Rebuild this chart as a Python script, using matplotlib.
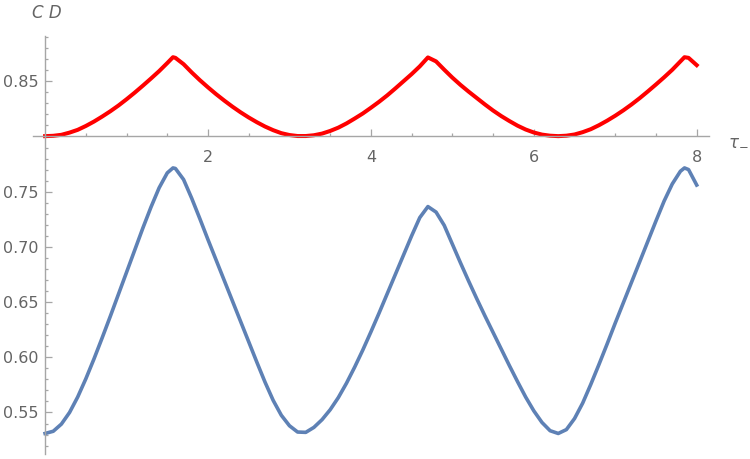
import matplotlib
matplotlib.use('Agg')
import matplotlib.pyplot as plt
from matplotlib.ticker import MultipleLocator, FixedLocator

# values (tau_-, C D)
tau = [0.0, 0.1, 0.2, 0.3, 0.4, 0.5, 0.6, 0.7, 0.8, 0.9,
       1.0, 1.1, 1.2, 1.3, 1.4, 1.5, 1.57, 1.6, 1.7, 1.8, 1.9,
       2.0, 2.1, 2.2, 2.3, 2.4, 2.5, 2.6, 2.7, 2.8, 2.9,
       3.0, 3.1, 3.2, 3.3, 3.4, 3.5, 3.6, 3.7, 3.8, 3.9,
       4.0, 4.1, 4.2, 4.3, 4.4, 4.5, 4.6, 4.7, 4.8, 4.9,
       5.0, 5.1, 5.2, 5.3, 5.4, 5.5, 5.6, 5.7, 5.8, 5.9,
       6.0, 6.1, 6.2, 6.3, 6.4, 6.5, 6.6, 6.7, 6.8, 6.9,
       7.0, 7.1, 7.2, 7.3, 7.4, 7.5, 7.6, 7.7, 7.8, 7.85, 7.9,
       8.0]
cd_red = [0.8003, 0.8006, 0.8015, 0.8035, 0.8060, 0.8095, 0.8135, 0.8180, 0.8228, 0.8280,
          0.8337, 0.8397, 0.8460, 0.8525, 0.8592, 0.8665, 0.8718, 0.8712, 0.8655, 0.8580, 0.8510,
          0.8445, 0.8383, 0.8325, 0.8270, 0.8219, 0.8172, 0.8129, 0.8090, 0.8057, 0.8030,
          0.8013, 0.8004, 0.8004, 0.8011, 0.8026, 0.8050, 0.8080, 0.8118, 0.8162, 0.8208,
          0.8260, 0.8314, 0.8372, 0.8435, 0.8500, 0.8565, 0.8635, 0.8716, 0.8680, 0.8605,
          0.8533, 0.8467, 0.8406, 0.8348, 0.8290, 0.8235, 0.8185, 0.8140, 0.8098, 0.8063,
          0.8036, 0.8017, 0.8007, 0.8003, 0.8007, 0.8018, 0.8039, 0.8066, 0.8102, 0.8143,
          0.8188, 0.8237, 0.8290, 0.8347, 0.8408, 0.8471, 0.8536, 0.8604, 0.8680, 0.8718, 0.8712,
          0.8646]
cd_blue = [0.531, 0.533, 0.5395, 0.550, 0.564, 0.5805, 0.5985, 0.6175, 0.637, 0.657,
           0.677, 0.697, 0.717, 0.736, 0.7535, 0.767, 0.7715, 0.771, 0.761, 0.744, 0.7255,
           0.7065, 0.688, 0.6695, 0.651, 0.6325, 0.614, 0.5955, 0.5775, 0.561, 0.5475,
           0.538, 0.5323, 0.532, 0.5365, 0.5435, 0.5525, 0.5635, 0.5765, 0.591, 0.6065,
           0.623, 0.640, 0.6575, 0.675, 0.6925, 0.710, 0.7265, 0.7365, 0.7315, 0.7195,
           0.7025, 0.6855, 0.669, 0.653, 0.6375, 0.6225, 0.6075, 0.5925, 0.578, 0.564,
           0.5515, 0.541, 0.5335, 0.531, 0.5345, 0.5445, 0.5585, 0.5755, 0.5935, 0.612,
           0.631, 0.6495, 0.668, 0.6865, 0.705, 0.7235, 0.7415, 0.757, 0.7685, 0.7715, 0.770,
           0.756]

x_major = [2, 4, 6, 8]
x_minor = [0.5, 1.0, 1.5, 2.5, 3.0, 3.5, 4.5, 5.0, 5.5, 6.5, 7.0, 7.5]
y_major = [0.55, 0.60, 0.65, 0.70, 0.75, 0.85]
y_labels = ['0.55', '0.60', '0.65', '0.70', '0.75', '0.85']

axis_gray = '#a6a6a6'
text_gray = '#646464'

fig = plt.figure(figsize=(7.5, 4.59), dpi=100)
ax = fig.add_axes([33 / 750, 5 / 459, 676 / 750, 418 / 459])

ax.plot(tau, cd_blue, color='#5e81b5', lw=2.6, solid_joinstyle='round')
ax.plot(tau, cd_red, color='#ff0000', lw=2.9, solid_joinstyle='round')

ax.set_xlim(-0.1486, 8.151)
ax.set_ylim(0.5124, 0.891)

# axes cross at (0, 0.80) like Mathematica
for side in ['top', 'right']:
    ax.spines[side].set_visible(False)
ax.spines['left'].set_position(('data', 0))
ax.spines['bottom'].set_position(('data', 0.80))
for side in ['left', 'bottom']:
    ax.spines[side].set_color(axis_gray)
    ax.spines[side].set_linewidth(1.0)

ax.xaxis.set_major_locator(FixedLocator(x_major))
ax.xaxis.set_minor_locator(FixedLocator(x_minor))
ax.yaxis.set_major_locator(FixedLocator(y_major))
ax.set_yticklabels(y_labels)
ax.yaxis.set_minor_locator(MultipleLocator(0.01))

ax.tick_params(which='both', direction='in', color=axis_gray, width=0.9,
               labelcolor=text_gray, labelsize=11.5)
ax.tick_params(which='major', length=4.8)
ax.tick_params(which='minor', length=2.4)
ax.tick_params(axis='x', pad=9.5)
ax.tick_params(axis='y', pad=5)

ax.text(47 / 750, 1 - 13 / 459, 'C D', transform=fig.transFigure, ha='center', va='center',
        fontsize=12, style='italic', color=text_gray)
ax.text(728 / 750, 1 - 140 / 459, r'$\tau_{-}$', transform=fig.transFigure, ha='left',
        va='center', fontsize=12, color=text_gray)

fig.savefig('out.png', dpi=100)
